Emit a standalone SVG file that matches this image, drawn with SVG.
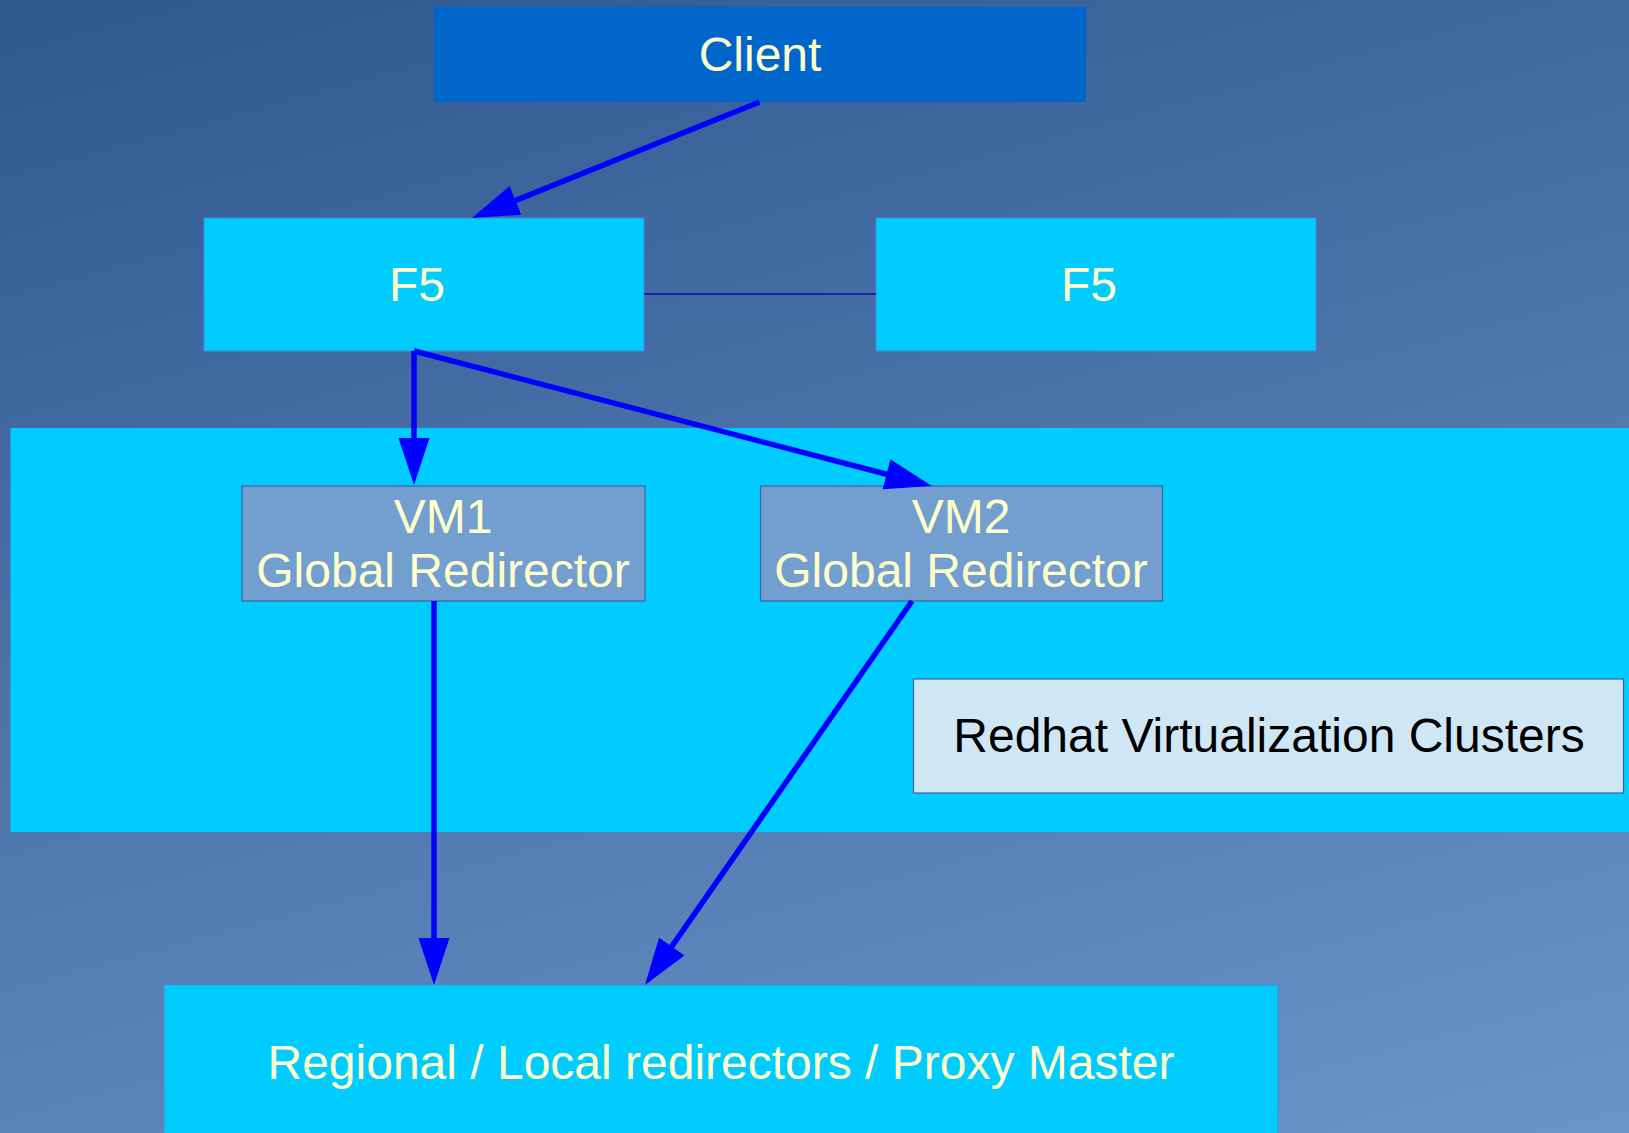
<svg xmlns="http://www.w3.org/2000/svg" width="1629" height="1133" viewBox="0 0 1629 1133">
<defs>
<linearGradient id="bg" gradientUnits="userSpaceOnUse" x1="0" y1="0" x2="396" y2="1466">
<stop offset="0" stop-color="#2f5891"/>
<stop offset="1" stop-color="#6a95c8"/>
</linearGradient>
<marker id="arr" markerUnits="userSpaceOnUse" markerWidth="48" markerHeight="32" refX="27" refY="15.5" orient="auto">
<path d="M0,0 L47,15.5 L0,31 z" fill="#0000ff"/>
</marker>
<style>
.t{font-family:"Liberation Sans",Arial,sans-serif;font-size:48px;fill:#ffffcc;text-anchor:middle}
.f5{fill:#00ccff;stroke:#3d8fd6;stroke-width:1}
.vm{fill:#729fcf;stroke:#3465a4;stroke-width:1.2}
.c{stroke:#0000ff;stroke-width:5.5;fill:none;marker-end:url(#arr)}
</style>
</defs>
<rect width="1629" height="1133" fill="url(#bg)"/>
<g id="cluster">
<rect x="10.5" y="428" width="1619" height="404" fill="#00ccff"/>
</g>
<g id="client">
<rect x="434" y="7" width="652" height="95" fill="#0066cc"/>
<text class="t" x="760" y="71">Client</text>
</g>
<g id="f5a">
<rect class="f5" x="204" y="218" width="440" height="133"/>
<text class="t" x="417" y="301">F5</text>
</g>
<g id="f5b">
<rect class="f5" x="876" y="218" width="440" height="133"/>
<text class="t" x="1089" y="301">F5</text>
</g>
<g id="vm1">
<rect class="vm" x="242" y="486" width="403" height="115"/>
<text class="t" x="443" y="533">VM1</text>
<text class="t" x="443" y="587">Global Redirector</text>
</g>
<g id="vm2">
<rect class="vm" x="760.5" y="486" width="402" height="115"/>
<text class="t" x="961" y="533">VM2</text>
<text class="t" x="961" y="587">Global Redirector</text>
</g>
<g id="rhv">
<rect x="913.5" y="679" width="710" height="114" fill="#cfe7f5" stroke="#3465a4" stroke-width="1.2"/>
<text class="t" x="1269" y="752" style="fill:#000000">Redhat Virtualization Clusters</text>
</g>
<g id="regional">
<rect class="f5" x="164" y="985" width="1114" height="160"/>
<text class="t" x="721" y="1079">Regional / Local redirectors / Proxy Master</text>
</g>
<g id="connectors">
<line x1="644" y1="294" x2="876" y2="294" stroke="#1010a0" stroke-width="1.5"/>
<line class="c" x1="759.5" y1="102" x2="490.5" y2="210.5"/>
<line class="c" x1="414" y1="351" x2="414" y2="465"/>
<line class="c" x1="414" y1="351" x2="912.6" y2="481"/>
<line class="c" x1="434" y1="601" x2="434" y2="965"/>
<line class="c" x1="912" y1="601" x2="656.4" y2="968.6"/>
</g>
</svg>
